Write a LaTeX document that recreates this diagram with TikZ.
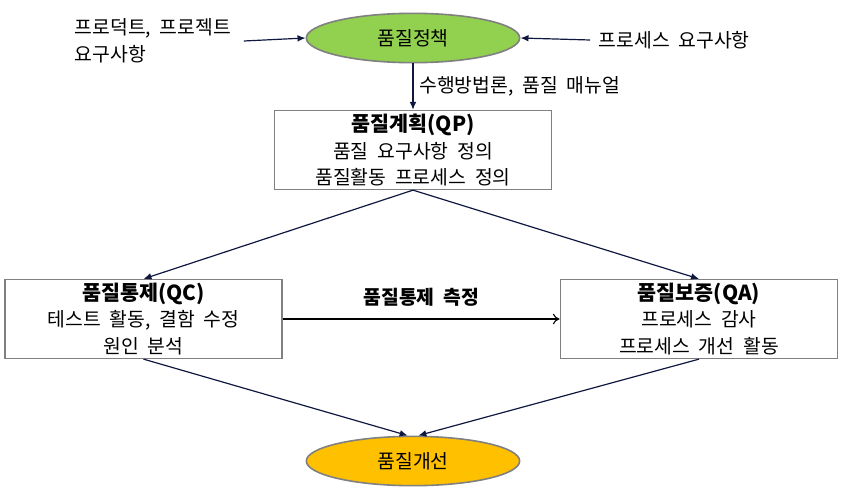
\documentclass[tikz,border=0pt]{standalone}
\usepackage{fontspec}
\setmainfont{Noto Sans CJK KR}
\usetikzlibrary{positioning, shapes.geometric, arrows.meta}

\definecolor{policygreen}{RGB}{146,208,80}
\definecolor{improveorange}{RGB}{255,192,0}
\definecolor{edgegray}{RGB}{128,128,128}
\definecolor{linknavy}{RGB}{16,24,64}

\newcommand{\bodyfont}{\fontsize{14.5}{20}\selectfont\spaceskip=0.45em\relax}
\newcommand{\headfont}{\bfseries\fontsize{15.5}{20}\selectfont}
\newcommand{\labelfont}{\bfseries\fontsize{14.5}{16}\selectfont\spaceskip=0.45em\relax}

\begin{document}
\begin{tikzpicture}[
    x=0.75pt, y=-0.75pt,
    every node/.style={align=center, font=\bodyfont},
    oval/.style={ellipse, draw=edgegray, line width=1.2pt, minimum width=160pt, minimum height=37pt},
    stagebox/.style={rectangle, draw=edgegray, line width=1.2pt, minimum width=208pt, minimum height=59pt, inner sep=1pt},
    link/.style={draw=linknavy, line width=0.9pt, -{Latex[length=6pt,width=5pt]}},
    >=Latex
]
    \useasboundingbox (0,0) rectangle (849,492);

    % ellipses
    \node[oval, fill=policygreen] (policy) at (413,38) {품질정책};
    \node[oval, fill=improveorange] (improve) at (413,461) {품질개선};

    % stage boxes
    \node[stagebox] (plan) at (413,150)
        {{\headfont 품질계획(QP)}\\품질 요구사항 정의\\품질활동 프로세스 정의};
    \node[stagebox] (control) at (143.5,319)
        {{\headfont 품질통제(QC)}\\테스트 활동, 결함 수정\\원인 분석};
    \node[stagebox] (assure) at (699,319)
        {{\headfont 품질보증(QA)}\\프로세스 감사\\프로세스 개선 활동};

    % inputs
    \node[align=left, anchor=west] (reqProduct) at (70,41) {프로덕트, 프로젝트\\요구사항};
    \node[anchor=west] (reqProcess) at (594,40) {프로세스 요구사항};

    \draw[link] ([xshift=6pt]reqProduct.east) -- (policy.west);
    \draw[link] ([xshift=-3pt]reqProcess.west) -- (policy.east);

    \draw[link] (policy.south) -- (plan.north)
        node[midway, right, xshift=1pt] {수행방법론, 품질 매뉴얼};

    \draw[link] (plan.south) -- (control.north);
    \draw[link] (plan.south) -- (assure.north);

    \draw[line width=0.8pt, -{To[length=5pt,width=8pt]}] (control.east) -- (assure.west)
        node[midway, above=6pt, font=\labelfont] {품질통제 측정};

    \draw[link] (control.south) -- ([xshift=-4pt]improve.north);
    \draw[link] (assure.south) -- ([xshift=4pt]improve.north);
\end{tikzpicture}
\end{document}
